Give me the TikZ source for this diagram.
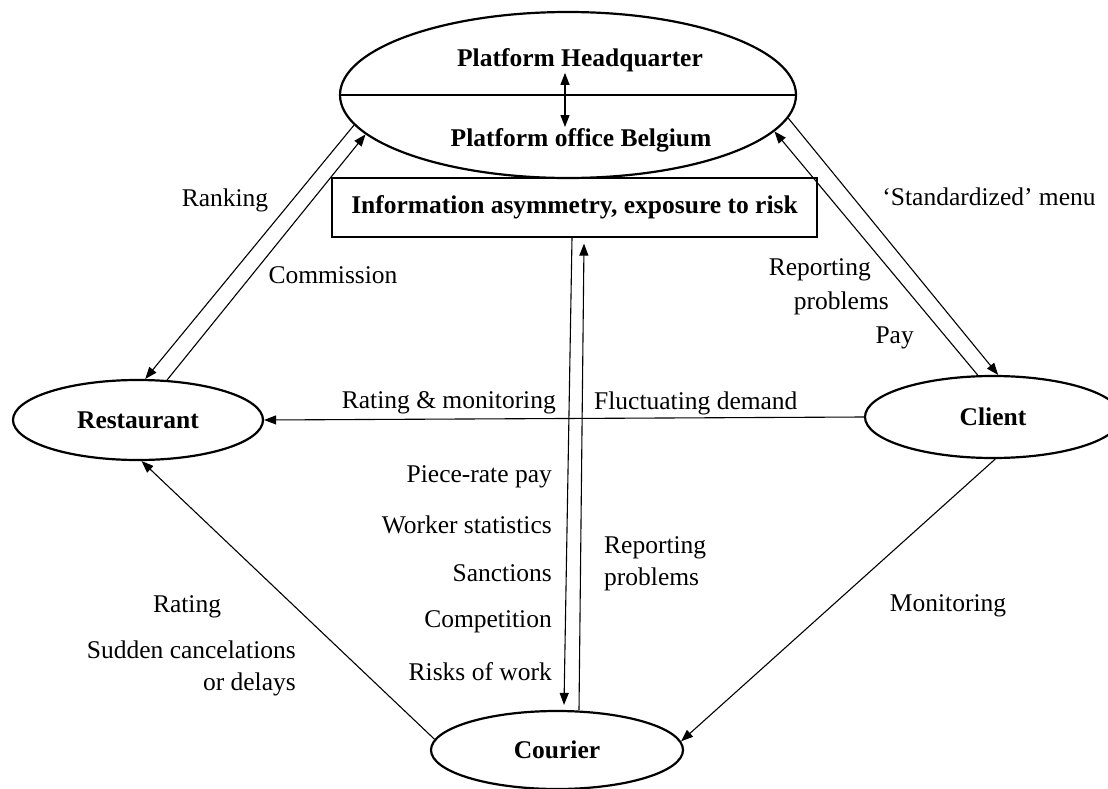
\documentclass[tikz,border=0pt]{standalone}
\usepackage{fontspec}
\setmainfont{Liberation Serif}
\usetikzlibrary{shapes.geometric,arrows.meta,positioning}

\begin{document}
\begin{tikzpicture}[
    x=1pt, y=-1pt,
    >={Triangle[length=12pt,width=9pt]},
    every node/.style={font=\fontsize{25.5pt}{32pt}\selectfont, inner sep=1pt},
    actor/.style={ellipse, draw, line width=2.2pt, inner sep=0pt, font=\fontsize{25.5pt}{32pt}\selectfont\bfseries},
    head/.style={font=\fontsize{25.5pt}{32pt}\selectfont\bfseries},
    infobox/.style={rectangle, draw, line width=1.2pt, minimum width=485pt, minimum height=59pt, font=\fontsize{25.5pt}{32pt}\selectfont\bfseries},
    flow/.style={line width=1.1pt}
  ]
  \useasboundingbox (0,0) rectangle (1108,789);

  % actors
  \node[actor, minimum width=456pt, minimum height=166pt] (platform) at (568,95) {};
  \node[head] (hq) at (580,60) {Platform Headquarter};
  \node[head] (belgium) at (581,140) {Platform office Belgium};
  \node[actor, minimum width=250pt, minimum height=80pt] (restaurant) at (138,420) {Restaurant};
  \node[actor, minimum width=256pt, minimum height=82pt] (client) at (993,417) {Client};
  \node[actor, minimum width=252pt, minimum height=78pt] (courier) at (557,750) {Courier};
  \node[infobox] (info) at (574.5,207.5) {Information asymmetry, exposure to risk};

  % headquarter / office split
  \draw[line width=1.2pt] (platform.west) -- (platform.east);
  \draw[flow,<->] ([xshift=-15pt]hq.south) -- ([xshift=-16pt]belgium.north);

  % connectors
  \draw[flow,->] (platform.188) -- (restaurant.80);
  \draw[flow,->] (restaurant.54) -- (platform.191);
  \draw[flow,->] (platform.354) -- (client.83);
  \draw[flow,->] (client.110) -- (platform.350);
  \draw[flow,->] (client.west) -- (restaurant.east);
  \draw[flow,->] (courier.175) -- (restaurant.275);
  \draw[flow,->] (client.273) -- (courier.4);
  \draw[flow,->] ([xshift=-2.5pt]info.south) -- ([xshift=7pt,yshift=5pt]courier.north);
  \draw[flow,->] ([xshift=22pt]courier.north) -- ([xshift=9.5pt,yshift=-6pt]info.south);

  % labels
  \node (ranking) at (225,200) {Ranking};
  \node (commission) at (333,275) {Commission};
  \node (menu) at (989,197) {‘Standardized’ menu};
  \node[anchor=east] (reporting) at (872,270) {Reporting};
  \node[anchor=east] (problems) at (890,303) {problems};
  \node[anchor=east] (pay) at (915,338) {Pay};
  \node[anchor=east] (ratmon) at (557,403) {Rating \& monitoring};
  \node[anchor=west] (demand) at (593,403) {Fluctuating demand};
  \foreach \txt/\y [count=\i] in {Piece-rate pay/477, Worker statistics/525, Sanctions/573, Competition/622, Risks of work/672}
    \node[anchor=east] (duty\i) at (553,\y) {\txt};
  \node[anchor=west, align=left] (courierreport) at (603,564) {Reporting\\problems};
  \node (rating) at (187,607) {Rating};
  \node[anchor=east, align=right] (sudden) at (297,668) {Sudden cancelations\\or delays};
  \node (monitoring) at (948,606) {Monitoring};

\end{tikzpicture}
\end{document}
